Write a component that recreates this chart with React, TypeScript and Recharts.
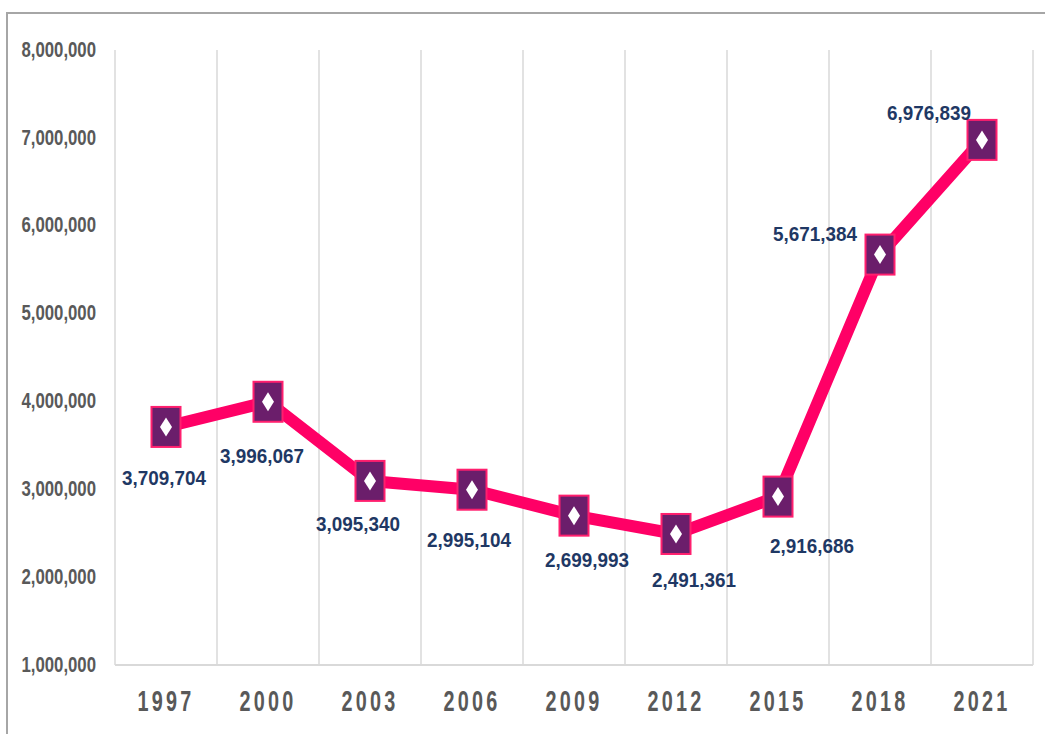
import React from 'react';
import { LineChart, Line, XAxis, YAxis, CartesianGrid } from 'recharts';

const years = ['1997', '2000', '2003', '2006', '2009', '2012', '2015', '2018', '2021'];
const values = [3709704, 3996067, 3095340, 2995104, 2699993, 2491361, 2916686, 5671384, 6976839];
const yTicks = [1000000, 2000000, 3000000, 4000000, 5000000, 6000000, 7000000, 8000000];
// label offsets relative to each point (dx, dy)
const labelDx = [-2, -6, -12, -3, 13, 18, 34, -65, -53];
const labelDy = [50, 54, 43, 50, 44, 45, 49, -21, -27];

const data = years.map((year, i) => ({ year, value: values[i] }));

const FONT = "'Liberation Sans', Arial, sans-serif";
const fmt = (v: number) => v.toLocaleString('en-US');

const YTick = (props: any) => {
  const { x, y, payload } = props;
  return (
    <text
      transform={`translate(${x - 11},${y - 1}) scale(0.78,1)`}
      textAnchor="end"
      dy="0.36em"
      fontFamily={FONT}
      fontWeight="bold"
      fontSize={21.5}
      fill="#595959"
    >
      {fmt(payload.value)}
    </text>
  );
};

const XTick = (props: any) => {
  const { x, y, payload } = props;
  return (
    <text
      transform={`translate(${x},${y + 38}) scale(0.66,1)`}
      textAnchor="middle"
      fontFamily={FONT}
      fontWeight="bold"
      fontSize={30}
      letterSpacing={5}
      fill="#595959"
    >
      {payload.value}
    </text>
  );
};

const Marker = (props: any) => {
  const { cx, cy, index, value } = props;
  if (cx == null || cy == null) return null;
  const lx = cx + labelDx[index];
  const ly = cy + labelDy[index];
  return (
    <g key={`m-${index}`}>
      <rect x={cx - 14.5} y={cy - 20} width={29} height={40} fill="#6b1e6b" stroke="#ff1f6e" strokeWidth={2} />
      <polygon
        points={`${cx},${cy - 9.5} ${cx + 6},${cy} ${cx},${cy + 9.5} ${cx - 6},${cy}`}
        fill="#ffffff"
      />
      <text
        transform={`translate(${lx},${ly}) scale(0.9,1)`}
        textAnchor="middle"
        dy="0.36em"
        fontFamily={FONT}
        fontWeight="bold"
        fontSize={21}
        fill="#1f3864"
      >
        {fmt(value)}
      </text>
    </g>
  );
};

const gridGen = ({ offset }: any) =>
  Array.from({ length: years.length + 1 }, (_, i) => offset.left + (offset.width * i) / years.length);

export default function App() {
  return (
    <div style={{ position: 'absolute', left: 0, top: 0, width: 1045, height: 734, overflow: 'hidden', background: '#fff' }}>
      <div
        style={{
          position: 'absolute',
          left: 6,
          top: 12,
          width: 1200,
          height: 900,
          border: '2px solid #a6a6a6',
          boxSizing: 'border-box',
        }}
      />
      <div style={{ position: 'absolute', left: 0, top: 0 }}>
        <LineChart width={1045} height={734} data={data} margin={{ top: 50, right: 12, bottom: 0, left: 0 }}>
          <CartesianGrid horizontal={false} vertical stroke="#d9d9d9" strokeWidth={1.5} verticalCoordinatesGenerator={gridGen} />
          <XAxis
            dataKey="year"
            scale="band"
            interval={0}
            height={69}
            axisLine={{ stroke: '#d9d9d9', strokeWidth: 2 }}
            tickLine={false}
            tick={<XTick />}
          />
          <YAxis
            domain={[1000000, 8000000]}
            ticks={yTicks}
            interval={0}
            axisLine={false}
            tickLine={false}
            width={115}
            tick={<YTick />}
          />
          <Line
            dataKey="value"
            type="linear"
            stroke="#ff0066"
            strokeWidth={12}
            strokeLinejoin="round"
            dot={Marker}
            activeDot={false}
            isAnimationActive={false}
          />
        </LineChart>
      </div>
    </div>
  );
}
